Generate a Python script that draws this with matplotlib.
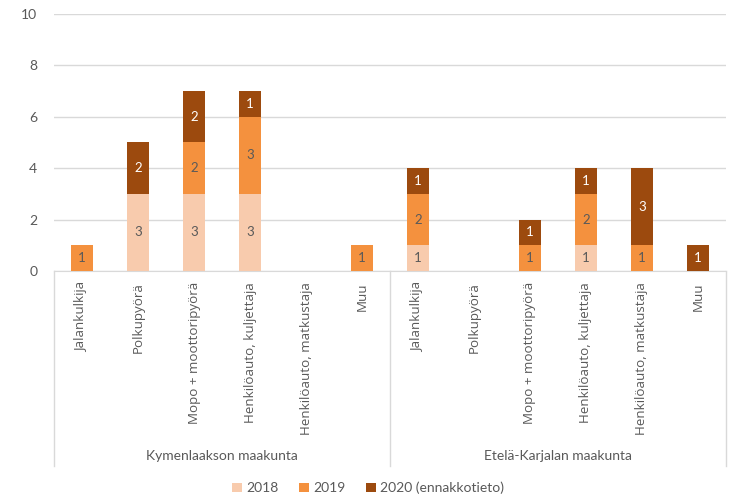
import numpy as np
import matplotlib.pyplot as plt

plt.rcParams["font.family"] = ["Lato", "DejaVu Sans"]

# Data
categories = ["Jalankulkija", "Polkupyörä", "Mopo + moottoripyörä",
              "Henkilöauto, kuljettaja", "Henkilöauto, matkustaja", "Muu"]
regions = ["Kymenlaakson maakunta", "Etelä-Karjalan maakunta"]
series = ["2018", "2019", "2020 (ennakkotieto)"]

kymi_2018 = [0, 3, 3, 3, 0, 0]
kymi_2019 = [1, 0, 2, 3, 0, 1]
kymi_2020 = [0, 2, 2, 1, 0, 0]
ek_2018 = [1, 0, 0, 1, 0, 0]
ek_2019 = [2, 0, 1, 2, 1, 0]
ek_2020 = [1, 0, 1, 1, 3, 1]

colors = ["#F8CBAD", "#F4913E", "#9C4A0E"]
label_colors = ["#595959", "#595959", "#FFFFFF"]
grey = "#595959"

vals = [np.array(kymi_2018 + ek_2018),
        np.array(kymi_2019 + ek_2019),
        np.array(kymi_2020 + ek_2020)]
labels = categories + categories
x = np.arange(len(labels))

fig = plt.figure(figsize=(7.36, 4.98), dpi=100)
ax = fig.add_axes([0.0734, 0.456, 0.913, 0.516])

bottom = np.zeros(len(x))
for v, c, lc, name in zip(vals, colors, label_colors, series):
    ax.bar(x, v, width=0.4, bottom=bottom, color=c, label=name, zorder=3)
    for xi, vi, bi in zip(x, v, bottom):
        if vi > 0:
            ax.text(xi, bi + vi / 2, str(int(vi)), ha="center", va="center",
                    fontsize=9.5, color=lc, zorder=4)
    bottom = bottom + v

ax.set_xlim(-0.5, len(x) - 0.5)
ax.set_ylim(0, 10)
ax.set_yticks(range(0, 11, 2))
ax.grid(axis="y", color="#D9D9D9", linewidth=1, zorder=0)
for s in ["top", "right", "left"]:
    ax.spines[s].set_visible(False)
ax.spines["bottom"].set_color("#D9D9D9")
ax.tick_params(axis="y", length=0, labelsize=10, colors=grey, pad=12)
ax.tick_params(axis="x", length=0, colors=grey, pad=8)
ax.set_xticks(x)
ax.set_xticklabels(labels, rotation=90, va="top",
                   fontsize=9.6, family=["Open Sans", "DejaVu Sans"])

# group separators and region labels
tr = ax.get_xaxis_transform()
for xs in [-0.5, 5.5, 11.5]:
    ax.plot([xs, xs], [0, -0.76], transform=tr, color="#D9D9D9",
            linewidth=1, clip_on=False)
for i, r in enumerate(regions):
    ax.text(2.5 + 6 * i, -0.72, r, transform=tr, ha="center", va="center",
            fontsize=10, color=grey)

fig.legend(loc="center", bbox_to_anchor=(0.5, 0.02), ncol=3, frameon=False,
           fontsize=10, handlelength=0.7, handleheight=0.7, handletextpad=0.3,
           columnspacing=1.5, labelcolor=grey)

fig.savefig("out.png", dpi=100)
